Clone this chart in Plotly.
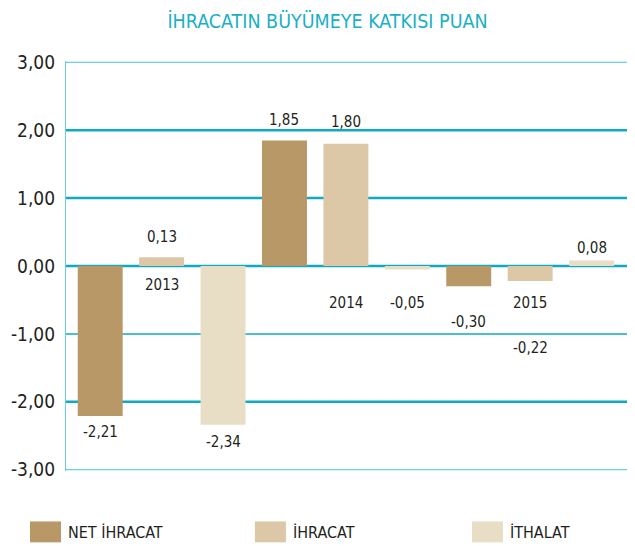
import plotly.graph_objects as go

# ---- data ----
years = ["2013", "2014", "2015"]
series_names = ["NET İHRACAT", "İHRACAT", "İTHALAT"]
net_ihracat = [-2.21, 1.85, -0.30]
ihracat = [0.13, 1.80, -0.22]
ithalat = [-2.34, -0.05, 0.08]
y_tick_vals = [-3, -2, -1, 0, 1, 2, 3]
y_tick_text = ["-3,00", "-2,00", "-1,00", "0,00", "1,00", "2,00", "3,00"]

# ---- layout helpers (positions of value labels, in data units) ----
label_y = [[-2.44, 2.15, -0.82], [0.43, 2.12, -1.21], [-2.60, -0.55, 0.26]]
year_label_y = [-0.28, -0.54, -0.54]
heavy_grid = [-2, 0, 1, 2]
light_grid = [-3, 3]

colors = ["#B99868", "#DCC7A6", "#E8DDC5"]
FONT = "DejaVu Sans Condensed, Liberation Sans Narrow, sans-serif"
TEXT = "#231F20"
TEAL = "#0FAAC0"
TEAL_LIGHT = "#6CCFDD"

all_series = [net_ihracat, ihracat, ithalat]


def fmt(v):
    return f"{v:.2f}".replace(".", ",")


fig = go.Figure()
annotations = []
for s, (name, vals, col) in enumerate(zip(series_names, all_series, colors)):
    xs = [i + (s - 1) / 3 for i in range(len(years))]
    fig.add_trace(go.Bar(
        x=xs, y=vals, name=name, marker=dict(color=col, line=dict(width=0)),
        width=0.244, showlegend=False, hovertemplate="%{y}<extra>" + name + "</extra>",
    ))
    for x, v, ly in zip(xs, vals, label_y[s]):
        annotations.append(dict(x=x, y=ly, xref="x", yref="y", text=fmt(v),
                                showarrow=False, font=dict(family=FONT, size=15, color=TEXT)))

for i, (yr, ly) in enumerate(zip(years, year_label_y)):
    annotations.append(dict(x=i, y=ly, xref="x", yref="y", text=yr, showarrow=False,
                            font=dict(family=FONT, size=15, color=TEXT)))

shapes = []
# horizontal grid lines with varying weight
for v in y_tick_vals:
    if v in heavy_grid:
        w, c = 2.5, TEAL
    elif v in light_grid:
        w, c = 1.3, TEAL_LIGHT
    else:
        w, c = 1.5, TEAL
    shapes.append(dict(type="line", xref="paper", yref="y", x0=0, x1=1, y0=v, y1=v,
                       line=dict(color=c, width=w), layer="below"))

# manual legend (large swatches)
legend_x = [-0.0633, 0.332, 0.7135]
for name, col, lx in zip(series_names, colors, legend_x):
    shapes.append(dict(type="rect", xref="paper", yref="paper", x0=lx, x1=lx + 0.0545,
                       y0=-0.174, y1=-0.123, fillcolor=col, line=dict(width=0), layer="above"))
    annotations.append(dict(x=lx + 0.0545 + 0.009, y=-0.149, xref="paper", yref="paper",
                            text=name, showarrow=False, xanchor="left", yanchor="middle",
                            font=dict(family=FONT, size=16, color=TEXT)))

# the page adds an 8px body margin, so the figure is sized 8px smaller
fig.update_layout(
    width=627, height=538,
    margin=dict(l=58, r=0, t=52.6, b=74.6, autoexpand=False),
    paper_bgcolor="white", plot_bgcolor="white",
    title=dict(text="İHRACATIN BÜYÜMEYE KATKISI PUAN", x=319.5 / 627, xanchor="center",
               y=1 - 13 / 538, yanchor="middle", yref="container",
               font=dict(family=FONT, size=19.5, color="#1AAFC6")),
    barmode="overlay",
    xaxis=dict(range=[-0.519, 2.569], showticklabels=False, showgrid=False, zeroline=False,
               showline=False, ticks="", automargin=False),
    yaxis=dict(range=[-3.02, 3.02], tickvals=y_tick_vals, ticktext=y_tick_text,
               showgrid=False, zeroline=False,
               showline=True, linecolor=TEAL_LIGHT, linewidth=1.2,
               ticks="", ticklabelstandoff=6, automargin=False,
               tickfont=dict(family=FONT, size=19, color=TEXT)),
    annotations=annotations,
    shapes=shapes,
    font=dict(family=FONT, color=TEXT),
)

fig.write_html("out.html")
